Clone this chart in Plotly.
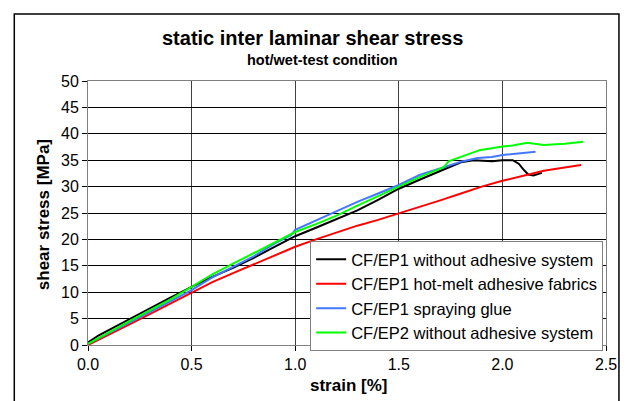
import plotly.graph_objects as go

# CF/EP1 without adhesive system
black_x = [0.0, 0.05, 0.1, 0.2, 0.3, 0.4, 0.5, 0.6, 0.7, 0.8, 0.9, 1.0, 1.1, 1.2, 1.3, 1.4, 1.5, 1.6, 1.7, 1.75, 1.8, 1.86, 1.95, 2.0, 2.05, 2.08, 2.1, 2.125, 2.15, 2.19]
black_y = [0.5, 1.8, 2.8, 4.9, 7.0, 9.0, 11.0, 12.9, 14.6, 16.5, 18.6, 20.6, 22.2, 23.8, 25.5, 27.5, 29.6, 31.3, 33.0, 33.8, 34.6, 35.0, 34.8, 35.0, 35.0, 34.3, 33.3, 32.3, 32.1, 32.6]

# CF/EP1 hot-melt adhesive fabrics
red_x = [0.0, 0.1, 0.2, 0.3, 0.4, 0.5, 0.6, 0.7, 0.8, 0.9, 1.0, 1.1, 1.2, 1.3, 1.4, 1.5, 1.6, 1.7, 1.8, 1.9, 2.0, 2.1, 2.2, 2.3, 2.38]
red_y = [0.0, 1.9, 3.9, 5.9, 7.9, 9.9, 11.9, 13.6, 15.3, 17.0, 18.6, 20.0, 21.3, 22.6, 23.7, 24.9, 26.2, 27.4, 28.7, 30.0, 31.1, 32.1, 33.0, 33.6, 34.1]

# CF/EP1 spraying glue
blue_x = [0.0, 0.1, 0.2, 0.3, 0.4, 0.5, 0.6, 0.7, 0.8, 0.9, 0.98, 1.0, 1.1, 1.2, 1.3, 1.4, 1.5, 1.6, 1.7, 1.75, 1.8, 1.88, 1.95, 2.0, 2.1, 2.16]
blue_y = [0.2, 2.2, 4.2, 6.3, 8.3, 10.4, 12.8, 14.8, 16.8, 19.2, 20.8, 21.8, 23.6, 25.3, 27.1, 28.7, 30.3, 32.2, 33.4, 34.1, 34.7, 35.4, 35.6, 36.0, 36.3, 36.6]

# CF/EP2 without adhesive system
green_x = [0.0, 0.1, 0.2, 0.3, 0.4, 0.5, 0.6, 0.7, 0.8, 0.9, 1.0, 1.1, 1.2, 1.3, 1.4, 1.5, 1.6, 1.7, 1.72, 1.74, 1.8, 1.89, 2.0, 2.05, 2.12, 2.2, 2.3, 2.39]
green_y = [0.2, 2.4, 4.5, 6.6, 8.7, 11.0, 13.4, 15.4, 17.4, 19.4, 21.4, 22.9, 24.5, 26.4, 28.2, 30.0, 31.8, 33.4, 33.8, 34.8, 35.6, 36.9, 37.6, 37.8, 38.3, 37.9, 38.1, 38.5]

names = ["CF/EP1 without adhesive system", "CF/EP1 hot-melt adhesive fabrics",
         "CF/EP1 spraying glue", "CF/EP2 without adhesive system"]
colors = ["#000000", "#ff0000", "#4477ff", "#00ff00"]
xt = [0.0, 0.5, 1.0, 1.5, 2.0, 2.5]
xt_labels = ["0.0", "0.5", "1.0", "1.5", "2.0", "2.5"]
yt = list(range(0, 51, 5))

FONT = "Liberation Sans, Arial, sans-serif"

fig = go.Figure()
for xs, ys, nm, c in zip([black_x, red_x, blue_x, green_x], [black_y, red_y, blue_y, green_y], names, colors):
    fig.add_trace(go.Scatter(x=xs, y=ys, mode="lines", name=nm,
                             line=dict(color=c, width=2)))

L, R, T, B = 88, 21, 81, 56
W, H = 629, 401
pw, ph = W - L - R, H - T - B

def px(xp):
    return (xp - L) / pw

def py(yp):
    return (H - B - yp) / ph

fig.update_layout(
    width=W, height=H,
    margin=dict(l=L, r=R, t=T, b=B),
    paper_bgcolor="white", plot_bgcolor="white",
    font=dict(family=FONT, size=16, color="black"),
    showlegend=True,
    legend=dict(x=px(311), y=py(241), xanchor="left", yanchor="top",
                bgcolor="white", bordercolor="#808080", borderwidth=1,
                font=dict(family=FONT, size=16.5, color="black"),
                tracegroupgap=0, itemwidth=30),
    xaxis=dict(range=[0, 2.5], tickvals=xt, ticktext=xt_labels,
               showgrid=True, gridcolor="#404040", gridwidth=1,
               showline=True, linecolor="#808080", linewidth=1, mirror=True,
               ticks="outside", ticklen=5, tickcolor="black",
               tickfont=dict(family=FONT, size=16), zeroline=False),
    yaxis=dict(range=[0, 50], tickvals=yt,
               showgrid=True, gridcolor="#000000", gridwidth=1,
               showline=True, linecolor="#808080", linewidth=1, mirror=True,
               ticks="outside", ticklen=5, tickcolor="black",
               tickfont=dict(family=FONT, size=16), zeroline=False),
    shapes=[dict(type="rect", xref="paper", yref="paper",
                 x0=px(14), x1=px(621), y0=py(420), y1=py(14),
                 line=dict(color="black", width=1.5), fillcolor="rgba(0,0,0,0)", layer="above")],
    annotations=[
        dict(text="<b>static inter laminar shear stress</b>", x=px(313), y=py(38),
             xref="paper", yref="paper", showarrow=False, xanchor="center", yanchor="middle",
             font=dict(family=FONT, size=20)),
        dict(text="<b>hot/wet-test condition</b>", x=px(323), y=py(60),
             xref="paper", yref="paper", showarrow=False, xanchor="center", yanchor="middle",
             font=dict(family=FONT, size=14.5)),
        dict(text="<b>strain [%]</b>", x=px(350), y=py(385),
             xref="paper", yref="paper", showarrow=False, xanchor="center", yanchor="middle",
             font=dict(family=FONT, size=17)),
        dict(text="<b>shear stress [MPa]</b>", x=px(43), y=py(215), textangle=-90,
             xref="paper", yref="paper", showarrow=False, xanchor="center", yanchor="middle",
             font=dict(family=FONT, size=17)),
    ],
)

fig.write_html("out.html")
